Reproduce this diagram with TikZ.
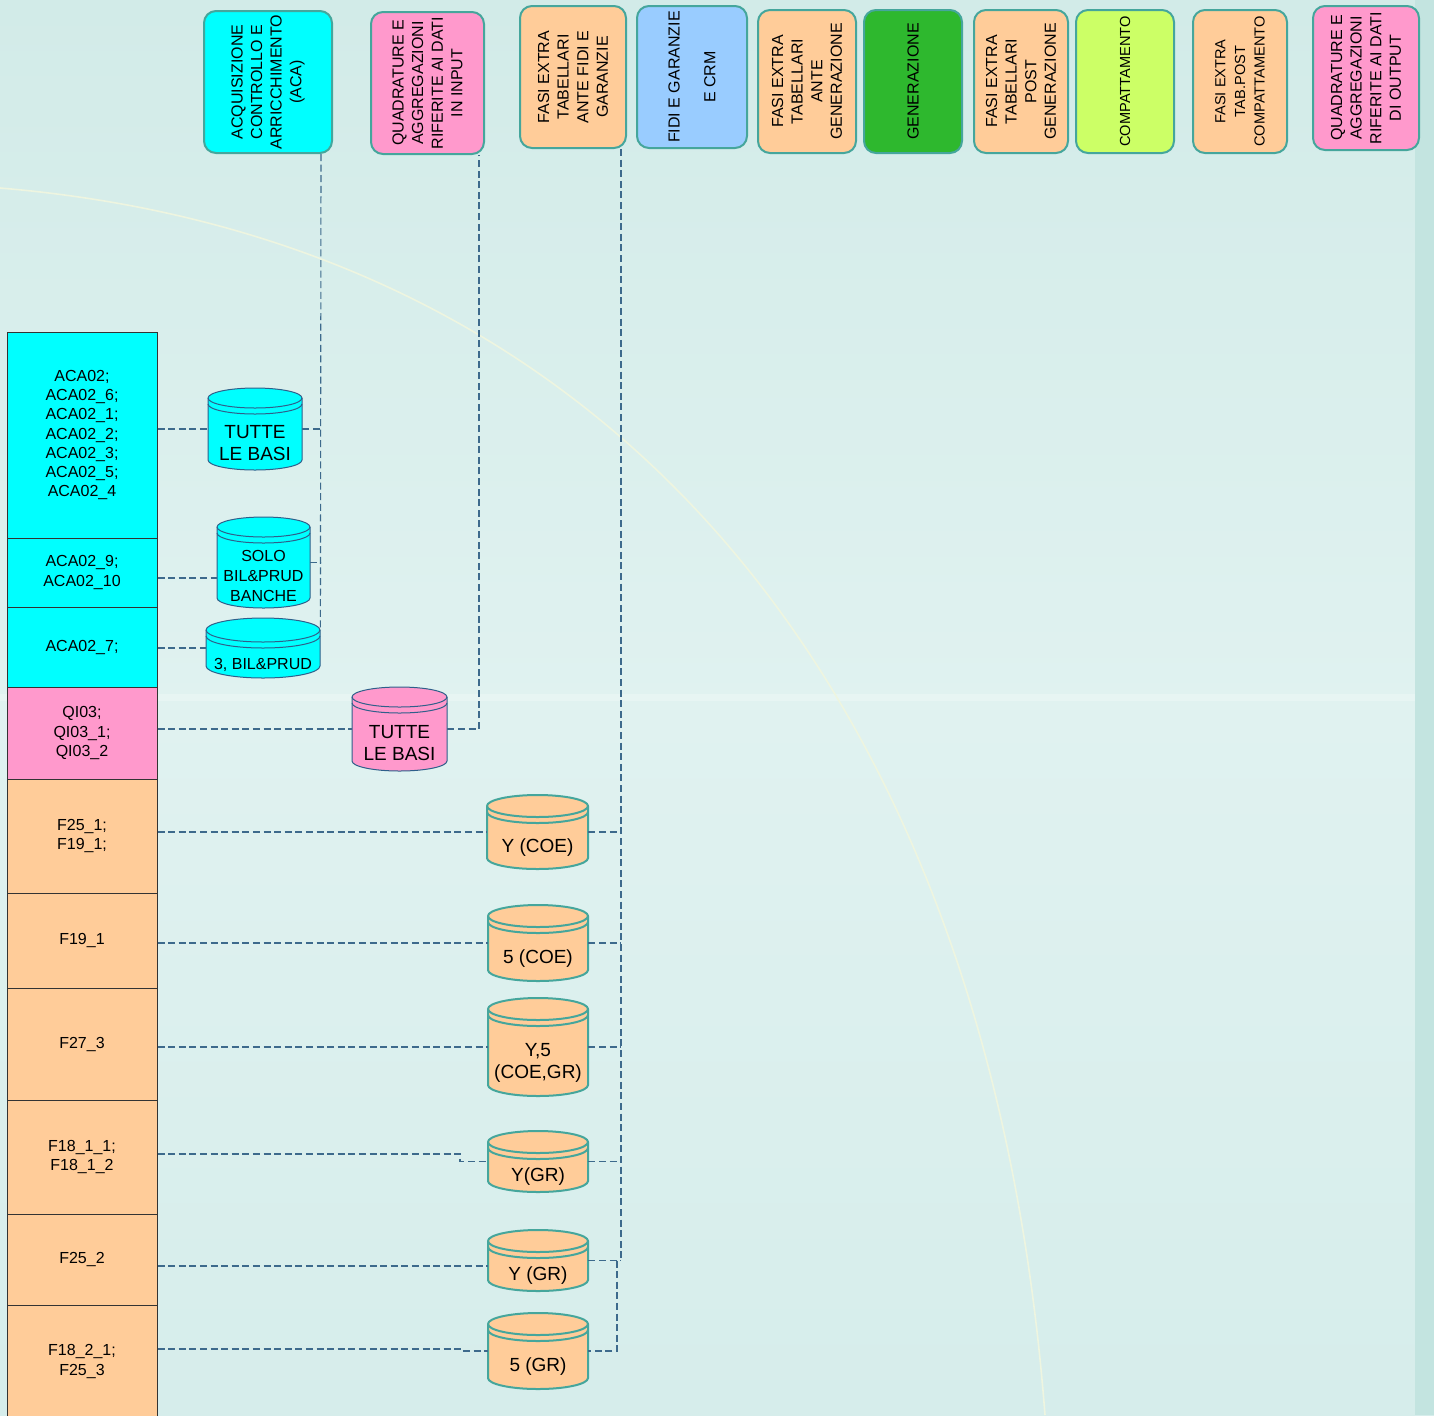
\documentclass[tikz,border=0pt]{standalone}
\usepackage{fontspec}
\setmainfont{Liberation Sans}
\definecolor{bgtop}{HTML}{D2EBE8}
\definecolor{bgmid}{HTML}{E0F2F0}
\definecolor{bgbot}{HTML}{D6EDEB}
\definecolor{bandc}{HTML}{C3E4E0}
\definecolor{cyanf}{HTML}{00FFFF}
\definecolor{pinkf}{HTML}{FF99CC}
\definecolor{peachf}{HTML}{FFCC99}
\definecolor{bluef}{HTML}{99CCFF}
\definecolor{greenf}{HTML}{2EB82E}
\definecolor{limef}{HTML}{CCFF66}
\definecolor{tealb}{HTML}{45A69C}
\definecolor{navyb}{HTML}{2F5F8A}
\definecolor{connc}{HTML}{3D6A8C}
\definecolor{arcc}{HTML}{EEF5E0}
\newcommand{\dbcyl}[7]{%
  \pgfmathsetmacro\cylrx{(#4-#2)*0.25}%
  \pgfmathsetmacro\cylry{#7*0.5}%
  \path[#6] (#2,#5-#7) arc[start angle=180,end angle=360,x radius=\cylrx pt,y radius=\cylry pt]
     -- (#4,#3+#7) arc[start angle=0,end angle=180,x radius=\cylrx pt,y radius=\cylry pt] -- cycle;
  \path[#6,fill=none] (#2,#3+#7) arc[start angle=180,end angle=360,x radius=\cylrx pt,y radius=\cylry pt];
  \path[#6,fill=none] (#2,#3+#7+6) arc[start angle=180,end angle=360,x radius=\cylrx pt,y radius=\cylry pt];
  \node[inner sep=0pt,minimum width={(#4-#2)*0.5pt},minimum height={(#5-#3)*0.5pt}] (#1) at ({(#2+#4)/2},{(#3+#5)/2}) {};%
}
\begin{document}
\begin{tikzpicture}[x=0.5pt,y=-0.5pt,
  hbox/.style={draw=tealb,line width=1pt,rounded corners=6pt,inner sep=0pt},
  htext/.style={rotate=90,align=center,inner sep=0pt,font=\fontsize{8}{9.8}\selectfont},
  htextsm/.style={htext,font=\fontsize{7.3}{9.8}\selectfont},
  lrow/.style={draw=black!80,line width=0.5pt,minimum width=75pt,inner sep=0pt,align=center,font=\fontsize{8}{9.6}\selectfont},
  cyanC/.style={fill=cyanf,draw=navyb,line width=0.5pt},
  pinkC/.style={fill=pinkf,draw=navyb,line width=0.5pt},
  peachC/.style={fill=peachf,draw=tealb,line width=1pt},
  ctext/.style={align=center,inner sep=0pt,font=\fontsize{9.5}{11}\selectfont},
  stext/.style={align=center,inner sep=0pt,font=\fontsize{8}{9.8}\selectfont},
  conn/.style={draw=connc,line width=0.55pt,dash pattern=on 3.5pt off 1.8pt}
]
\useasboundingbox (0,0) rectangle (1434,1415);
\clip (0,0) rectangle (1434,1415);
% background
\shade[top color=bgtop,bottom color=bgbot,middle color=bgmid] (0,0) rectangle (1434,1415);
\fill[bandc] (1415,0) rectangle (1434,1415);
\fill[white,opacity=0.25] (0,694) rectangle (1415,701);
\draw[arcc,line width=0.8pt] (0,188) .. controls (620,240) and (990,700) .. (1045,1415);

% header boxes
\node[hbox,fill=cyanf,minimum width=64pt,minimum height=71pt] (b1) at (268,82) {};
\node[htext] (t1) at (b1) {ACQUISIZIONE\\CONTROLLO E\\ARRICCHIMENTO\\(ACA)};
\node[hbox,fill=pinkf,minimum width=56.5pt,minimum height=71pt] (b2) at (427.5,83) {};
\node[htext] (t2) at (b2) {QUADRATURE E\\AGGREGAZIONI\\RIFERITE AI DATI\\IN INPUT};
\node[hbox,fill=peachf,minimum width=53pt,minimum height=71pt] (b3) at (573,77) {};
\node[htext] (t3) at (b3) {FASI EXTRA\\TABELLARI\\ANTE FIDI E\\GARANZIE};
\node[hbox,fill=bluef,minimum width=55pt,minimum height=71pt] (b4) at (692,77) {};
\node[htext] (t4) at (b4) {FIDI E GARANZIE\\[8pt]E CRM};
\node[hbox,fill=peachf,minimum width=49pt,minimum height=71.5pt] (b5) at (807,81.5) {};
\node[htext] (t5) at (b5) {FASI EXTRA\\TABELLARI\\ANTE\\GENERAZIONE};
\node[hbox,fill=greenf,minimum width=49pt,minimum height=71.5pt] (b6) at (913,81.5) {};
\node[htext] (t6) at (b6) {GENERAZIONE};
\node[hbox,fill=peachf,minimum width=47pt,minimum height=71.5pt] (b7) at (1021,81.5) {};
\node[htext] (t7) at (b7) {FASI EXTRA\\TABELLARI\\POST\\GENERAZIONE};
\node[hbox,fill=limef,minimum width=49pt,minimum height=71.5pt] (b8) at (1125,81.5) {};
\node[htextsm] (t8) at (b8) {COMPATTAMENTO};
\node[hbox,fill=peachf,minimum width=47pt,minimum height=71.5pt] (b9) at (1240,81.5) {};
\node[htextsm] (t9) at (b9) {FASI EXTRA\\TAB.POST\\COMPATTAMENTO};
\node[hbox,fill=pinkf,minimum width=53pt,minimum height=72pt] (b10) at (1366,78) {};
\node[htext] (t10) at (b10) {QUADRATURE E\\AGGREGAZIONI\\RIFERITE AI DATI\\DI OUTPUT};

% left column
\node[lrow,fill=cyanf,minimum height=103pt] (r1) at (82,435) {ACA02;\\ACA02\_6;\\ACA02\_1;\\ACA02\_2;\\ACA02\_3;\\ACA02\_5;\\ACA02\_4};
\node[lrow,fill=cyanf,minimum height=34.5pt] (r2) at (82,572.5) {ACA02\_9;\\ACA02\_10};
\node[lrow,fill=cyanf,minimum height=40pt] (r3) at (82,647) {ACA02\_7;};
\node[lrow,fill=pinkf,minimum height=46pt] (r4) at (82,733) {QI03;\\QI03\_1;\\QI03\_2};
\node[lrow,fill=peachf,minimum height=57pt] (r5) at (82,836) {F25\_1;\\F19\_1;};
\node[lrow,fill=peachf,minimum height=47.5pt] (r6) at (82,940.5) {F19\_1};
\node[lrow,fill=peachf,minimum height=56pt] (r7) at (82,1044) {F27\_3};
\node[lrow,fill=peachf,minimum height=57pt] (r8) at (82,1157) {F18\_1\_1;\\F18\_1\_2};
\node[lrow,fill=peachf,minimum height=45.5pt] (r9) at (82,1259.5) {F25\_2};
\node[lrow,fill=peachf,minimum height=56.5pt] (r10) at (82,1361.5) {F18\_2\_1;\\F25\_3};

% cylinders
\dbcyl{c1}{208}{388}{302}{470}{cyanC}{10}
\node[ctext] (c1t) at (255,443) {TUTTE\\LE BASI};
\dbcyl{c2}{217}{517}{310}{608}{cyanC}{10}
\node[stext] (c2t) at (263.5,576) {SOLO\\BIL\&PRUD\\BANCHE};
\dbcyl{c3}{206}{618}{320}{678}{cyanC}{12}
\node[stext] (c3t) at (263,665) {3, BIL\&PRUD};
\dbcyl{c4}{352}{687}{447}{771}{pinkC}{10}
\node[ctext] (c4t) at (399.5,743) {TUTTE\\LE BASI};
\dbcyl{c5}{487}{795}{588}{869}{peachC}{11}
\node[ctext] (c5t) at (537.5,848) {Y (COE)};
\dbcyl{c6}{488}{905}{588}{981}{peachC}{11}
\node[ctext] (c6t) at (538,959) {5 (COE)};
\dbcyl{c7}{488}{998}{588}{1096}{peachC}{11}
\node[ctext] (c7t) at (538,1063) {Y,5\\(COE,GR)};
\dbcyl{c8}{488}{1131}{588}{1192}{peachC}{11}
\node[ctext] (c8t) at (538,1177) {Y(GR)};
\dbcyl{c9}{488}{1230}{588}{1291}{peachC}{11}
\node[ctext] (c9t) at (538,1276) {Y (GR)};
\dbcyl{c10}{488}{1313}{588}{1389}{peachC}{11}
\node[ctext] (c10t) at (538,1367) {5 (GR)};

% bus coordinates
\coordinate (busA) at (321,0);
\coordinate (busB) at (479,0);
\coordinate (busC) at (621,0);
\coordinate (busD) at (617,0);
\coordinate (k8) at (460,1154);
\coordinate (k10) at (460,1349);

% connectors
\draw[conn] (r1.east |- c1.west) -- (c1.west);
\draw[conn] (c1.east) -- (c1.east -| busA);
\draw[conn] (r2.east |- 0,578) -- (c2.west |- 0,578);
\draw[conn] (c2.east) -- (c2.east -| busA);
\draw[conn] (r3.east |- c3.west) -- (c3.west);
\draw[conn] (b1.south -| busA) -- (c3.east |- 0,630);
\draw[conn] (r4.east |- c4.west) -- (c4.west);
\draw[conn] (c4.east) -- (c4.east -| busB) -- (b2.south -| busB);
\draw[conn] (b3.south -| busC) -- (c9.east -| busC);
\draw[conn] (r5.east |- c5.west) -- (c5.west);
\draw[conn] (c5.east) -- (c5.east -| busC);
\draw[conn] (r6.east |- c6.west) -- (c6.west);
\draw[conn] (c6.east) -- (c6.east -| busC);
\draw[conn] (r7.east |- c7.west) -- (c7.west);
\draw[conn] (c7.east) -- (c7.east -| busC);
\draw[conn] (r8.east |- k8) -- (k8) -- (k8 |- c8.west) -- (c8.west);
\draw[conn] (c8.east) -- (c8.east -| busC);
\draw[conn] (r9.east |- 0,1266) -- (c9.west |- 0,1266);
\draw[conn] (c9.east) -- (c9.east -| busC);
\draw[conn] (c9.east -| busD) -- (c10.east -| busD) -- (c10.east);
\draw[conn] (r10.east |- k10) -- (k10) -- (k10 |- c10.west) -- (c10.west);
\end{tikzpicture}
\end{document}
